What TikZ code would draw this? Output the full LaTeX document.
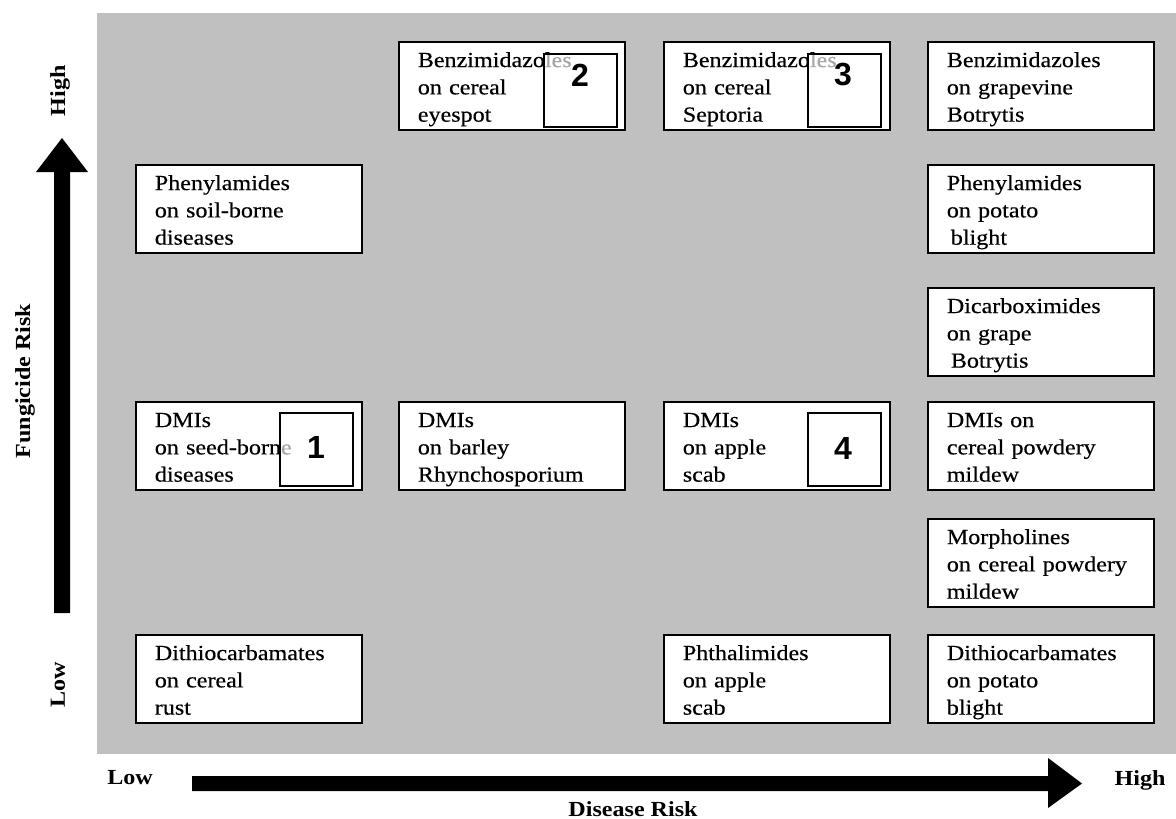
\documentclass[tikz,border=0pt]{standalone}
\usepackage{fontspec}
\setmainfont[FakeStretch=1.12]{Liberation Serif}
\newfontfamily\cellfont[FakeStretch=1.12,FakeBold=0.4]{Liberation Serif}
\newfontfamily\numfont{Liberation Sans}
\definecolor{panelgray}{RGB}{192,192,192}
\tikzset{
  cell/.style={draw=black, line width=1.7pt, fill=white, anchor=north west,
    minimum height=88pt, inner xsep=19pt, inner ysep=0pt, text width=188pt,
    align=left, font=\cellfont\fontsize{21.5}{27.3}\selectfont,
    execute at begin node={\rule{0pt}{22pt}},
    execute at end node={\rule[-5pt]{0pt}{5pt}}},
  numbox/.style={draw=black, line width=1.6pt, draw opacity=1, fill=white, fill opacity=0.65,
    text opacity=1, anchor=north west, minimum width=73pt, minimum height=73pt, inner sep=0pt},
  numtxt/.style={font=\numfont\bfseries\fontsize{32}{32}\selectfont, inner sep=0pt},
  axlab/.style={font=\bfseries\fontsize{21.5}{23}\selectfont, inner sep=0pt},
  axfill/.style={fill=black, draw=none}
}
\begin{document}
\begin{tikzpicture}[x=1pt,y=-1pt]
\useasboundingbox (0,0) rectangle (1176,819);
\fill[white] (0,0) rectangle (1176,819);
\fill[panelgray] (97,13) rectangle (1176,754);

% column 1
\node[cell] (c1a) at (135,164) {Phenylamides\\on soil-borne\\diseases};
\node[cell] (c1b) at (135,401) {DMIs\\on seed-borne\\diseases};
\node[cell] (c1c) at (135,634) {Dithiocarbamates\\on cereal\\rust};
% column 2
\node[cell] (c2a) at (398,41) {Benzimidazoles\\on cereal\\eyespot};
\node[cell] (c2b) at (398,401) {DMIs\\on barley\\Rhynchosporium};
% column 3
\node[cell] (c3a) at (663,41) {Benzimidazoles\\on cereal\\Septoria};
\node[cell] (c3b) at (663,401) {DMIs\\on apple\\scab};
\node[cell] (c3c) at (663,634) {Phthalimides\\on apple\\scab};
% column 4
\node[cell] (c4a) at (927,41) {Benzimidazoles\\on grapevine\\Botrytis};
\node[cell] (c4b) at (927,164) {Phenylamides\\on potato\\\hspace{4pt}blight};
\node[cell] (c4c) at (927,287) {Dicarboximides\\on grape\\\hspace{4pt}Botrytis};
\node[cell] (c4d) at (927,401) {DMIs on\\cereal powdery\\mildew};
\node[cell] (c4e) at (927,518) {Morpholines\\on cereal powdery\\mildew};
\node[cell] (c4f) at (927,634) {Dithiocarbamates\\on potato\\blight};

% numbered boxes
\node[numbox] (n2) at (543,53) {};
\node[numbox] (n3) at (807,53) {};
\node[numbox] (n1) at (279,412) {};
\node[numbox] (n4) at (807,412) {};
\node[numtxt] (t2) at (580,75) {2};
\node[numtxt] (t3) at (843,75) {3};
\node[numtxt] (t1) at (316,447) {1};
\node[numtxt] (t4) at (843,448) {4};

% vertical axis arrow
\fill[axfill] (54,613) -- (54,172) -- (36,172) -- (62,138) -- (88,172) -- (70,172) -- (70,613) -- cycle;
% horizontal axis arrow
\fill[axfill] (192,776) -- (1048,776) -- (1048,758) -- (1082,783.5) -- (1048,808) -- (1048,791) -- (192,791) -- cycle;

% axis labels
\node[axlab, rotate=90] (yhigh) at (60,91) {High};
\node[axlab, rotate=90] (ylow) at (58,685) {Low};
\node[axlab, rotate=90] (ytitle) at (25,381) {Fungicide Risk};
\node[axlab] (xlow) at (130,778) {Low};
\node[axlab] (xhigh) at (1140,780) {High};
\node[axlab] (xtitle) at (633,809) {Disease Risk};
\end{tikzpicture}
\end{document}
